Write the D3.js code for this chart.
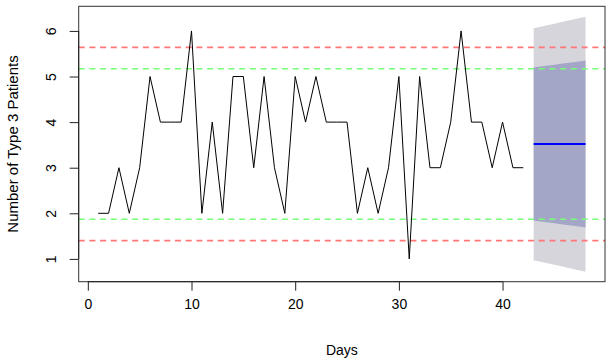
<!DOCTYPE html>
<html>
<head>
<meta charset="utf-8">
<script src="https://cdn.jsdelivr.net/npm/d3@7"></script>
<style>
  body { margin: 0; background: #fff; }
  text { font-family: "Liberation Sans", Arial, sans-serif; }
</style>
</head>
<body>
<div id="chart"></div>
<script>
// observed daily counts, days 1..42
const days = d3.range(1, 43);
const patients = [2, 2, 3, 2, 3, 5, 4, 4, 4, 6,
                  2, 4, 2, 5, 5, 3, 5, 3, 2, 5,
                  4, 5, 4, 4, 4, 2, 3, 2, 3, 5,
                  1, 5, 3, 3, 4, 6, 4, 4, 3, 4,
                  3, 3];

// forecast, days 43..48
const fcDays = [43, 44, 45, 46, 47, 48];
const fcMean = [3.52, 3.52, 3.52, 3.52, 3.52, 3.52];
const lo80 = [1.84, 1.81, 1.78, 1.75, 1.72, 1.69];
const hi80 = [5.20, 5.23, 5.26, 5.29, 5.32, 5.35];
const lo95 = [0.97, 0.92, 0.87, 0.82, 0.77, 0.72];
const hi95 = [6.06, 6.11, 6.16, 6.21, 6.26, 6.31];

// control limits
const redLimits = [5.64, 1.40];
const greenLimits = [5.17, 1.87];

const xTicks = [0, 10, 20, 30, 40];
const yTicks = [1, 2, 3, 4, 5, 6];

const W = 611, H = 361;
const box = { left: 78.7, right: 605, top: 6.3, bottom: 281.7 };

const svg = d3.select("#chart").append("svg")
    .attr("width", W)
    .attr("height", H);

const x = d3.scaleLinear().domain([-0.88, 49.88]).range([box.left, box.right]);
const y = d3.scaleLinear().domain([0.50, 6.54]).range([box.bottom, box.top]);

// forecast fans
const fc = fcDays.map((d, i) => ({ d, m: fcMean[i], l80: lo80[i], h80: hi80[i], l95: lo95[i], h95: hi95[i] }));

svg.append("path")
    .datum(fc)
    .attr("fill", "#d5d5db")
    .attr("d", d3.area().x(d => x(d.d)).y0(d => y(d.l95)).y1(d => y(d.h95)));

svg.append("path")
    .datum(fc)
    .attr("fill", "#a3a6c6")
    .attr("d", d3.area().x(d => x(d.d)).y0(d => y(d.l80)).y1(d => y(d.h80)));

svg.append("path")
    .datum(fc)
    .attr("fill", "none")
    .attr("stroke", "#0000ff")
    .attr("stroke-width", 2)
    .attr("d", d3.line().x(d => x(d.d)).y(d => y(d.m)));

// dashed limits
svg.selectAll(".red")
    .data(redLimits)
    .enter().append("line")
    .attr("x1", box.left).attr("x2", box.right)
    .attr("y1", d => y(d)).attr("y2", d => y(d))
    .attr("stroke", "#ff7777")
    .attr("stroke-width", 1.6)
    .attr("stroke-dasharray", "6,4.7");

svg.selectAll(".green")
    .data(greenLimits)
    .enter().append("line")
    .attr("x1", box.left).attr("x2", box.right)
    .attr("y1", d => y(d)).attr("y2", d => y(d))
    .attr("stroke", "#77ff77")
    .attr("stroke-width", 1.6)
    .attr("stroke-dasharray", "6,4.7");

// observed series
svg.append("path")
    .datum(days.map((d, i) => [d, patients[i]]))
    .attr("fill", "none")
    .attr("stroke", "#000")
    .attr("stroke-width", 1)
    .attr("d", d3.line().x(d => x(d[0])).y(d => y(d[1])));

// plot box
svg.append("rect")
    .attr("x", box.left).attr("y", box.top)
    .attr("width", box.right - box.left)
    .attr("height", box.bottom - box.top)
    .attr("fill", "none")
    .attr("stroke", "#333")
    .attr("stroke-width", 1);

// axes, R style
const xAxis = svg.append("g")
    .attr("transform", `translate(0,${box.bottom})`)
    .call(d3.axisBottom(x).tickValues(xTicks).tickSize(9).tickPadding(8).tickFormat(d3.format("d")));
const yAxis = svg.append("g")
    .attr("transform", `translate(${box.left},0)`)
    .call(d3.axisLeft(y).tickValues(yTicks).tickSize(9).tickPadding(6).tickFormat(d3.format("d")));

[xAxis, yAxis].forEach(g => {
    g.selectAll("path").attr("stroke", "#222");
    g.selectAll("line").attr("stroke", "#222");
    g.selectAll("text").attr("fill", "#000").style("font-size", "14px")
        .style("font-family", "'Liberation Sans', Arial, sans-serif");
});
xAxis.select(".domain").attr("d", `M${x(0)},0H${x(40)}`);
yAxis.select(".domain").attr("d", `M0,${y(1)}V${y(6)}`);

yAxis.selectAll("text")
    .attr("x", 0)
    .attr("y", 0)
    .attr("dy", null)
    .attr("transform", "translate(-23,0) rotate(-90)")
    .attr("text-anchor", "middle");

svg.append("text")
    .attr("x", (box.left + box.right) / 2)
    .attr("y", 355)
    .attr("text-anchor", "middle")
    .style("font-size", "14px")
    .text("Days");

svg.append("text")
    .attr("transform", `translate(18,${(box.top + box.bottom) / 2}) rotate(-90)`)
    .attr("text-anchor", "middle")
    .style("font-size", "15px")
    .text("Number of Type 3 Patients");
</script>
</body>
</html>
